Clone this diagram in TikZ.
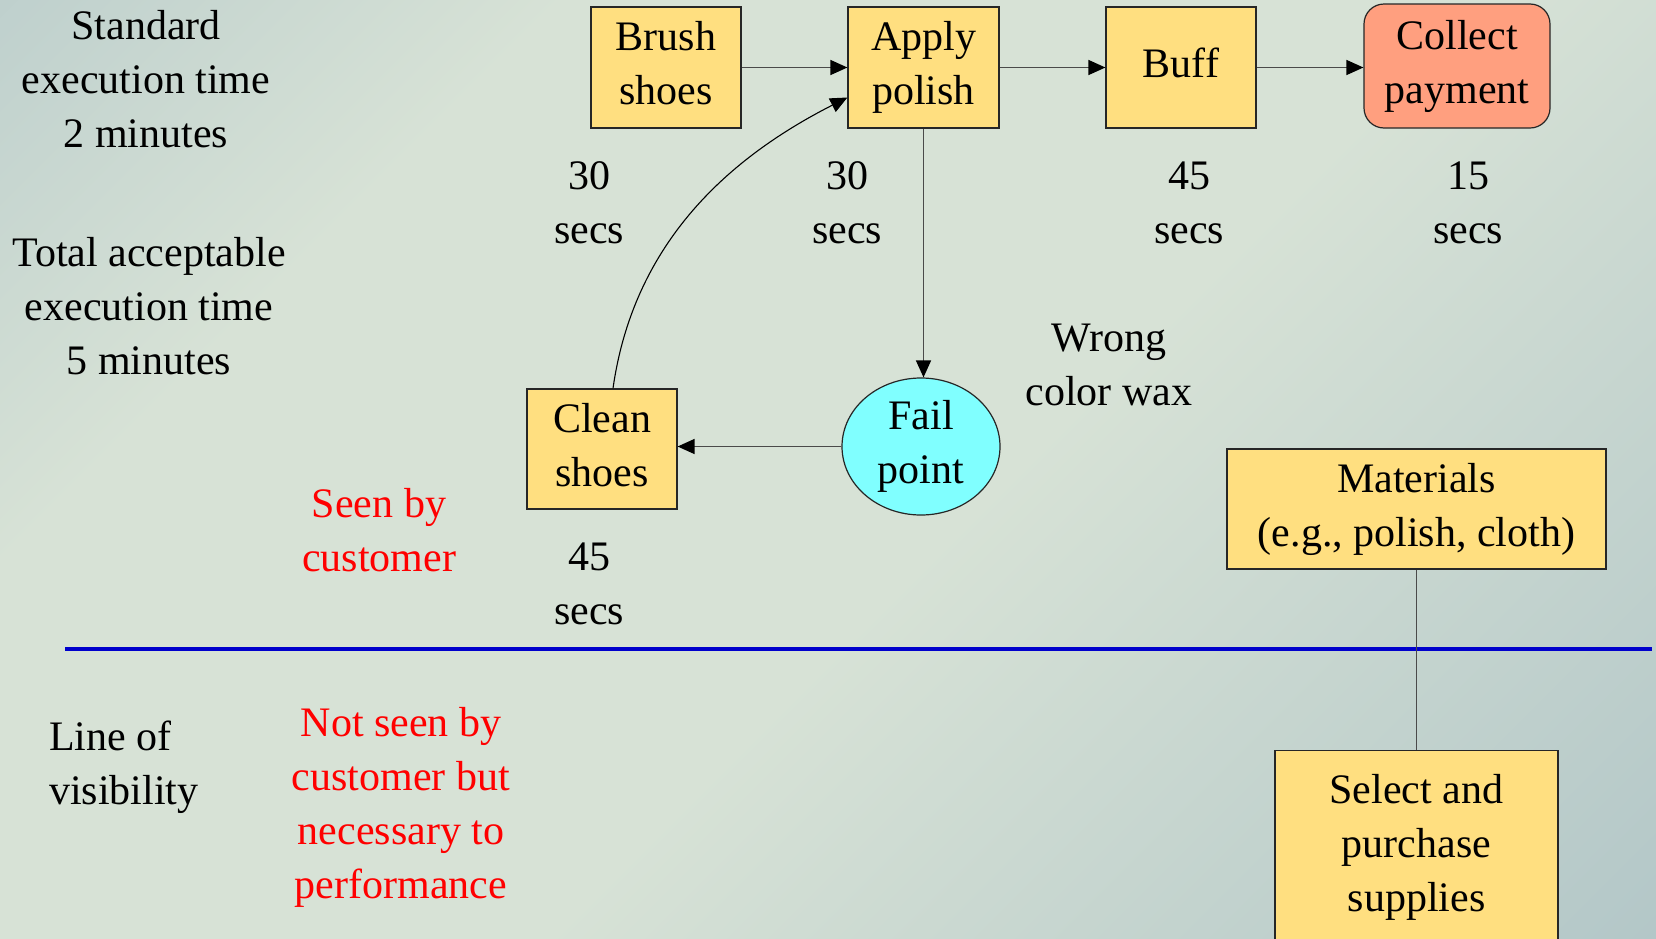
\documentclass[tikz,border=0pt]{standalone}
\usepackage{fontspec}
\setmainfont{Liberation Serif}
\usetikzlibrary{arrows.meta,shapes.geometric,calc}
\definecolor{bgblue}{HTML}{A8BFC5}
\definecolor{bgblue2}{HTML}{A2BAC1}
\definecolor{bglight}{HTML}{D7E2D6}
\definecolor{boxyellow}{HTML}{FFDF80}
\definecolor{boxsalmon}{HTML}{FF9F7F}
\definecolor{boxcyan}{HTML}{80FFFF}
\definecolor{visblue}{HTML}{0000CC}
\definecolor{linegray}{HTML}{4A4A4A}
% diagonal backdrop: blue-grey corners, light centre band
\pgfdeclareverticalshading{backdrop}{100bp}{%
  color(0bp)=(bgblue2); color(25bp)=(bgblue2); color(47.5bp)=(bglight);
  color(60bp)=(bglight); color(75bp)=(bgblue); color(100bp)=(bgblue)}
\begin{document}
\begin{tikzpicture}[x=1pt,y=-1pt,
  every node/.style={font=\fontsize{42}{54}\selectfont, align=center, inner sep=0pt},
  stepbox/.style={draw=black!85, line width=1.2pt, fill=boxyellow, rectangle, text depth=9pt},
  paybox/.style={draw=black!85, line width=1.2pt, fill=boxsalmon, rectangle, rounded corners=20pt, text depth=9pt},
  failpt/.style={draw=black!85, line width=1.2pt, fill=boxcyan, ellipse, text depth=9pt},
  tip/.style={-{Triangle[length=17pt,width=15pt,black]}},
  flow/.style={draw=linegray, line width=1.4pt, tip},
  redtext/.style={text=red},
]
% background
\useasboundingbox (0,0) rectangle (1656,938);
\clip (0,0) rectangle (1656,938);
\shade[shading=backdrop, shading angle=45] (-472,-831) rectangle (2128,1769);

% process steps
\node[stepbox, minimum width=150pt, minimum height=121pt] (brush) at (666,67.5) {Brush\\shoes};
\node[stepbox, minimum width=151pt, minimum height=121pt] (apply) at (923.5,67.5) {Apply\\polish};
\node[stepbox, minimum width=150pt, minimum height=121pt] (buff) at (1181,67.5) {Buff};
\node[paybox, minimum width=186pt, minimum height=124pt] (pay) at (1457,66) {Collect\\payment};
\node[stepbox, minimum width=150pt, minimum height=120pt] (clean) at (602,449) {Clean\\shoes};
\node[failpt, minimum width=158pt, minimum height=137pt] (fail) at (921,446.5) {Fail\\point};
\node[stepbox, minimum width=379pt, minimum height=120pt] (mat) at (1416.5,509) {Materials\\(e.g., polish, cloth)};
\node[stepbox, minimum width=283pt, minimum height=194pt, anchor=north] (sel) at (1416.5,750) {Select and\\purchase\\supplies};

% times and notes
\node (std) at (146,79) {Standard\\execution time\\2 minutes};
\node (tot) at (149,306) {Total acceptable\\execution time\\5 minutes};
\node (t1) at (589,203) {30\\secs};
\node (t2) at (847,203) {30\\secs};
\node (t3) at (1189,203) {45\\secs};
\node (t4) at (1468,203) {15\\secs};
\node (wrong) at (1109,365) {Wrong\\color wax};
\node[redtext] (seen) at (379,530) {Seen by\\customer};
\node (t5) at (589,584) {45\\secs};
\node[align=left, anchor=west] (lov) at (49,767) {Line of\\visibility};
\node[redtext] (notseen) at (401,807) {Not seen by\\customer but\\necessary to\\performance};

% line of visibility
\coordinate (lvL) at (65,649);
\coordinate (lvR) at (1652,649);
\draw[visblue, line width=4.5pt] (lvL) -- (lvR);

% connectors
\draw[flow] (brush.east) -- (apply.west);
\draw[flow] (apply.east) -- (buff.west);
\draw[flow] (buff.east) -- (buff.east -| pay.west);
\draw[flow] (apply.south) -- (apply.south |- fail.north);
\draw[flow] (fail.west) -- (fail.west -| clean.east);
\coordinate (cleanTop) at ($(clean.north)+(11,0)$);
\coordinate (applyIn) at ($(apply.west)+(0,30)$);
\draw[black, line width=1.1pt, tip]
  (cleanTop) .. controls +(21,-148) and +(-116,59) .. (applyIn);
\draw[linegray, line width=1.4pt] (mat.south) -- (sel.north);
\end{tikzpicture}
\end{document}
